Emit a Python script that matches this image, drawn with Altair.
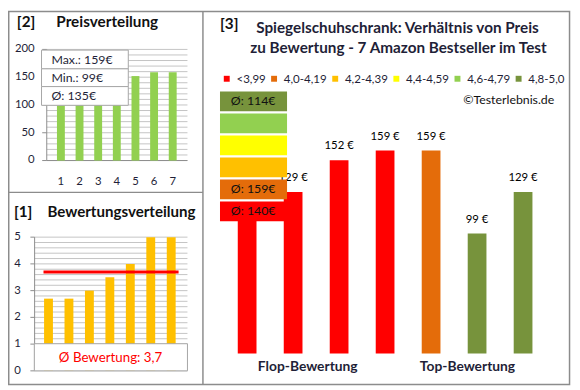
import altair as alt
import pandas as pd

# ---------------- data ----------------
idx = [1, 2, 3, 4, 5, 6, 7]
price_dist = [99, 120, 129, 129, 152, 159, 159]          # [2] Preisverteilung
rating_dist = [2.7, 2.7, 3.0, 3.5, 4.0, 5.0, 5.0]        # [1] Bewertungsverteilung
products_price = [120, 129, 152, 159, 159, 99, 129]      # [3] Preis je Produkt
products_rating = [2.7, 2.7, 3.0, 3.5, 4.0, 5.0, 5.0]    # [3] Bewertung je Produkt
cat_labels = ["<3,99", "4,0-4,19", "4,2-4,39", "4,4-4,59", "4,6-4,79", "4,8-5,0"]
cat_upper = [3.99, 4.19, 4.39, 4.59, 4.79, 5.0]
cat_colors = ["#FF0000", "#E46C0A", "#FFC000", "#FFFF00", "#92D050", "#77933C"]
price_ticks = [0, 50, 100, 150, 200]
price_minor = list(range(0, 201, 10))
rating_ticks = [0, 1, 2, 3, 4, 5]
rating_minor = [round(i * 0.2, 1) for i in range(26)]
group_labels = ["Flop-Bewertung", "Top-Bewertung"]
P3_MIN, P3_MAX = 12, 190

# ---------------- styles ----------------
FONT = "Lato"
DARK = "#1f1f38"
GRID = "#c4c4c4"
AXIS = "#8c8c8c"
BORDER = "#8c8c8c"
W, H = 572, 380

one = pd.DataFrame({"k": [0]})


def txt(x, y, s, size=12.5, bold=False, align="left", color=DARK):
    return alt.Chart(one).mark_text(
        text=s, fontSize=size, fontWeight="bold" if bold else "normal",
        align=align, baseline="middle", color=color, font=FONT
    ).encode(x=alt.value(x), y=alt.value(y))


def rect(x0, x1, y0, y1, fill="white", stroke=BORDER, sw=1):
    return alt.Chart(one).mark_rect(fill=fill, stroke=stroke, strokeWidth=sw).encode(
        x=alt.value(x0), x2=alt.value(x1), y=alt.value(y0), y2=alt.value(y1))


def hline(x0, x1, y, color=BORDER, sw=1.5):
    return alt.Chart(one).mark_rule(color=color, strokeWidth=sw).encode(
        x=alt.value(x0), x2=alt.value(x1), y=alt.value(y))


def vline(x, y0, y1, color=BORDER, sw=1.5):
    return alt.Chart(one).mark_rule(color=color, strokeWidth=sw).encode(
        x=alt.value(x), y=alt.value(y0), y2=alt.value(y1))


def category(r):
    for lab, up in zip(cat_labels, cat_upper):
        if r <= up:
            return lab
    return cat_labels[-1]


# ---------------- panel [2] Preisverteilung ----------------
p2x = alt.Scale(domain=[0.5, 7.5], range=[39.2, 181.5])
p2y = alt.Scale(domain=[0, 200], range=[152, 39.3])
df2 = pd.DataFrame({"i": idx, "v": price_dist})

p2 = alt.layer(
    alt.Chart(pd.DataFrame({"g": price_minor})).mark_rule(color=GRID, strokeWidth=1).encode(
        y=alt.Y("g:Q", scale=p2y, axis=None), x=alt.value(39.3), x2=alt.value(182)),
    alt.Chart(pd.DataFrame({"g": price_ticks})).mark_rule(color=AXIS, strokeWidth=1).encode(
        y=alt.Y("g:Q", scale=p2y, axis=None), x=alt.value(34.7), x2=alt.value(39.3)),
    alt.Chart(pd.DataFrame({"g": [0]})).mark_rule(color=AXIS, strokeWidth=1).encode(
        y=alt.Y("g:Q", scale=p2y, axis=None), x=alt.value(39.3), x2=alt.value(182)),
    alt.Chart(pd.DataFrame({"a": [0], "b": [200]})).mark_rule(color=AXIS, strokeWidth=1).encode(
        y=alt.Y("a:Q", scale=p2y, axis=None), y2="b:Q", x=alt.value(39.3)),
    alt.Chart(pd.DataFrame({"g": price_ticks})).mark_text(
        align="right", baseline="middle", fontSize=11.5, color=DARK, font=FONT).encode(
        y=alt.Y("g:Q", scale=p2y, axis=None), x=alt.value(27), text="g:N"),
    alt.Chart(pd.DataFrame({"i": idx})).mark_text(
        align="center", baseline="middle", fontSize=11.5, color=DARK, font=FONT).encode(
        x=alt.X("i:Q", scale=p2x, axis=None), y=alt.value(174), text="i:N"),
    alt.Chart(df2).mark_bar(size=8, color="#92D050").encode(
        x=alt.X("i:Q", scale=p2x, axis=None), y=alt.Y("v:Q", scale=p2y, axis=None)),
)

stat_lines = [
    f"Max.: {max(price_dist)}€",
    f"Min.: {min(price_dist)}€",
    f"Ø: {round(sum(price_dist) / len(price_dist))}€",
]
box_rows = [(40, 59), (59, 77), (77, 96)]
p2_box = [rect(34, 122, a, b, stroke="#a6a6a6") for a, b in box_rows]
p2_box += [txt(44, (a + b) / 2 + 0.5, s, size=12.5) for (a, b), s in zip(box_rows, stat_lines)]

# ---------------- panel [1] Bewertungsverteilung ----------------
p1x = alt.Scale(domain=[0.5, 7.5], range=[25.7, 180.9])
p1y = alt.Scale(domain=[0, 5], range=[365.3, 229.7])
df1 = pd.DataFrame({"i": idx, "v": rating_dist})
avg_rating = sum(rating_dist) / len(rating_dist)

p1 = alt.layer(
    alt.Chart(pd.DataFrame({"g": rating_minor})).mark_rule(color=GRID, strokeWidth=1).encode(
        y=alt.Y("g:Q", scale=p1y, axis=None), x=alt.value(27), x2=alt.value(182)),
    alt.Chart(pd.DataFrame({"g": rating_ticks})).mark_rule(color=AXIS, strokeWidth=1).encode(
        y=alt.Y("g:Q", scale=p1y, axis=None), x=alt.value(22.7), x2=alt.value(27)),
    alt.Chart(pd.DataFrame({"a": [0], "b": [5]})).mark_rule(color=AXIS, strokeWidth=1).encode(
        y=alt.Y("a:Q", scale=p1y, axis=None), y2="b:Q", x=alt.value(27)),
    alt.Chart(pd.DataFrame({"g": rating_ticks})).mark_text(
        align="right", baseline="middle", fontSize=11.5, color=DARK, font=FONT).encode(
        y=alt.Y("g:Q", scale=p1y, axis=None), x=alt.value(13), text="g:N"),
    alt.Chart(df1).mark_bar(size=9, color="#FFC000").encode(
        x=alt.X("i:Q", scale=p1x, axis=None), y=alt.Y("v:Q", scale=p1y, axis=None)),
    alt.Chart(pd.DataFrame({"m": [avg_rating]})).mark_rule(color="#FF0000", strokeWidth=3).encode(
        y=alt.Y("m:Q", scale=p1y, axis=None), x=alt.value(36), x2=alt.value(173)),
)
p1_box = [
    rect(26.7, 182, 337.8, 365.3, stroke="#a6a6a6"),
    txt(104, 352, "Ø Bewertung: " + f"{avg_rating:.1f}".replace(".", ","), size=13.5,
        align="center", color="#FF0000"),
]

# ---------------- panel [3] Preis / Bewertung ----------------
p3x = alt.Scale(domain=[0.5, 7.5], range=[214.2, 550.7])
p3y = alt.Scale(domain=[P3_MIN, P3_MAX], range=[347.7, 98.5])
df3 = pd.DataFrame({
    "i": idx,
    "p": products_price,
    "cat": [category(r) for r in products_rating],
    "lab": [f"{p} €" for p in products_price],
})
color_enc = alt.Color(
    "cat:N",
    scale=alt.Scale(domain=cat_labels, range=cat_colors),
    legend=alt.Legend(
        title=None, orient="none", legendX=216, legendY=63, direction="horizontal",
        columns=6, symbolType="square", symbolSize=36, symbolStrokeWidth=0,
        labelFontSize=11.7, labelFont=FONT, labelColor=DARK, columnPadding=2,
        labelOffset=4, padding=0, labelLimit=200,
    ),
)
p3 = alt.layer(
    alt.Chart(df3).mark_bar(size=19).encode(
        x=alt.X("i:Q", scale=p3x, axis=None),
        y=alt.Y("p:Q", scale=p3y, axis=None),
        y2=alt.datum(P3_MIN),
        color=color_enc,
    ),
    alt.Chart(df3).mark_text(dy=-14, fontSize=11.5, color="black", font=FONT).encode(
        x=alt.X("i:Q", scale=p3x, axis=None),
        y=alt.Y("p:Q", scale=p3y, axis=None),
        text="lab:N",
    ),
)

avg_by_cat = df3.groupby("cat")["p"].mean()
dfc = pd.DataFrame({
    "cat": cat_labels,
    "avg": [f"Ø: {round(avg_by_cat[c])}€" if c in avg_by_cat.index else "" for c in cat_labels],
})
legy = alt.Scale(domain=cat_labels[::-1], range=[82, 213.7], paddingInner=0.1, paddingOuter=0)
legend_boxes = alt.layer(
    alt.Chart(dfc).mark_rect().encode(
        y=alt.Y("cat:N", scale=legy, axis=None),
        x=alt.value(215), x2=alt.value(283),
        color=color_enc,
    ),
    alt.Chart(dfc).mark_text(align="left", baseline="middle", fontSize=12.5, color="#111111", font=FONT).encode(
        y=alt.Y("cat:N", scale=legy, axis=None),
        x=alt.value(226),
        text="avg:N",
    ),
)

# ---------------- texts & frame ----------------
titles = [
    txt(9, 12, "[2]", size=15.5, bold=True, color="#111111"),
    txt(49, 12, "Preisverteilung", size=15.5, bold=True, color="#111111"),
    txt(6, 204, "[1]", size=15.5, bold=True, color="#111111"),
    txt(40, 204, "Bewertungsverteilung", size=15.3, bold=True, color="#111111"),
    txt(215, 14, "[3]", size=15.5, bold=True, color="#111111"),
    txt(395, 18, "Spiegelschuhschrank: Verhältnis von Preis", size=15.5, bold=True, align="center"),
    txt(396, 38, "zu Bewertung - 7 Amazon Bestseller im Test", size=15.5, bold=True, align="center"),
    txt(554, 91, "©Testerlebnis.de", size=12.5, align="right", color="#111111"),
    txt(304, 361, group_labels[0], size=14, bold=True, align="center"),
    txt(466, 361, group_labels[1], size=14, bold=True, align="center"),
]
frame = [
    rect(0.75, 569.5, 0.75, 379.25, fill="white", stroke=BORDER, sw=1.5),
    vline(197.7, 0.75, 379.25),
    hline(0.75, 197.7, 184.3),
]

chart = alt.layer(
    *frame, p2, *p2_box, p1, *p1_box, p3, legend_boxes, *titles
).resolve_scale(
    x="independent", y="independent"
).properties(
    width=W, height=H, padding=0,
    autosize=alt.AutoSizeParams(type="none"),
    background="white",
).configure_view(strokeWidth=0)

chart.save("out.html", embed_options={"renderer": "svg", "actions": False})
